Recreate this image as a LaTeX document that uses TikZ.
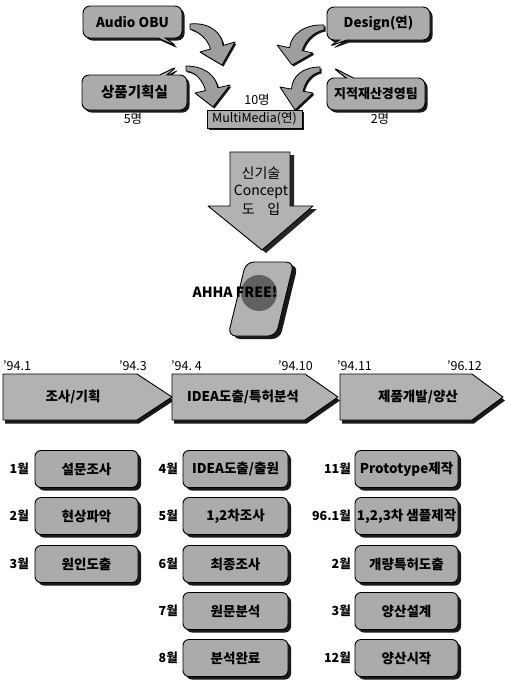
\documentclass[tikz,border=0pt]{standalone}
\usepackage{fontspec}
\setmainfont{Noto Sans CJK KR}
\usetikzlibrary{shapes.callouts,shadows}
\newcommand{\fsz}[1]{\fontsize{#1}{#1}\selectfont}
\begin{document}
\begin{tikzpicture}[x=1pt,y=-1pt,
  tone/.style={fill=black!33},
  hardshadow/.style={drop shadow={shadow xshift=#1, shadow yshift=-#1, fill=black!90, opacity=1}},
  hardshadow/.default=2.5pt,
  bubble/.style={rectangle callout, draw, line width=0.9pt, tone, rounded corners=7pt,
    inner sep=1pt, hardshadow, font=\bfseries\fsz{13.5}},
  curl/.style={draw, line width=0.8pt, fill=black!38, line join=round, hardshadow=1.5pt},
  plate/.style={rectangle, draw, line width=0.9pt, tone, rounded corners=6pt,
    minimum width=103pt, minimum height=37pt, inner sep=1pt, hardshadow=3pt,
    font=\bfseries\fsz{13.5}},
  month/.style={anchor=east, inner sep=0pt, font=\bfseries\fsz{12.5}},
  date/.style={inner sep=0pt, font=\fsz{12.5}},
  phase/.style={draw, line width=0.9pt, fill=black!30, line join=round,
    drop shadow={shadow xshift=2pt, shadow yshift=-3.5pt, fill=black!90, opacity=1}},
  phasetext/.style={inner sep=0pt, font=\bfseries\fsz{13.5}},
  count/.style={inner sep=0pt, font=\fsz{12.5}}
]
\useasboundingbox (0,0) rectangle (504,683);

% ---------- departments ----------
\node[bubble, minimum width=99pt, minimum height=32pt,
      callout absolute pointer={(178,47)}] (audio) at (132.5,22) {Audio OBU};
\node[bubble, minimum width=103pt, minimum height=33pt,
      callout absolute pointer={(328,47)}] (design) at (378.5,23.5) {Design(연)};
\node[bubble, minimum width=105pt, minimum height=35pt, font=\bfseries\fsz{14.5},
      callout absolute pointer={(178,66)}] (plan) at (134.5,92.5) {상품기획실};
\node[bubble, minimum width=98pt, minimum height=32pt, font=\bfseries\fsz{13},
      callout absolute pointer={(332,67)}] (ip) at (376,94) {지적재산경영팀};

% curved arrows into the MultiMedia team
\draw[curl] (190,24) .. controls (210,22) and (222,33) .. (223,45.5) -- (235,42)
  -- (222,65) -- (200,52) -- (210.5,49) .. controls (208,40) and (200,32) .. (190,29) -- cycle;
\draw[curl] (186,66) .. controls (205,66) and (216,76) .. (217.75,87.8) -- (230,85)
  -- (213,107) -- (195,93) -- (205.5,90.6) .. controls (203,81) and (196,72) .. (186,71) -- cycle;
\draw[curl] (324,25) .. controls (305,24) and (291,34) .. (289.6,47.8) -- (277,45)
  -- (292,65) -- (313,53) -- (302.2,50.6) .. controls (305,41) and (313,32) .. (324,30) -- cycle;
\draw[curl] (320,67) .. controls (302,67) and (292,77) .. (291.5,89.1) -- (280,87)
  -- (295,110) -- (313,93) -- (303.1,91.2) .. controls (305,82) and (311,74) .. (320,72) -- cycle;

\node[draw, line width=0.9pt, tone, minimum width=95pt, minimum height=18pt, inner sep=1pt,
      hardshadow=1.5pt, font=\fsz{12.5}] (mm) at (254.5,119) {MultiMedia(연)};
\node[count] (n10) at (257,100) {10명};
\node[count] (n5) at (133,119) {5명};
\node[count] (n2) at (380,119) {2명};

% ---------- big down arrow ----------
\draw[draw, line width=0.9pt, fill=black!30, line join=round,
      drop shadow={shadow xshift=4pt, shadow yshift=-3pt, fill=black!85, opacity=1}]
  (230,152) -- (290,152) -- (290,206) -- (313,206) -- (262,250) -- (208,206) -- (230,206) -- cycle;
\node[align=center, inner sep=0pt, font=\fsz{14}] (concept) at (261,191)
  {신기술\\[3pt]Concept\\[3pt]도\hspace{0.9em}입};

% ---------- AHHA FREE! ----------
\draw[line width=0.9pt, fill=black!30, rounded corners=8pt,
      drop shadow={shadow xshift=4pt, shadow yshift=-3pt, fill=black!90, opacity=1}]
  (246,262) -- (294,262) -- (276,336) -- (228,336) -- cycle;
\fill[black!62] (259,293) circle (18);
\node[inner sep=0pt, font=\bfseries\fsz{14}] (ahha) at (235,292) {AHHA FREE!};

% ---------- phases ----------
\draw[phase] (3,374) -- (137,374) -- (172,397) -- (137,420) -- (3,420) -- cycle;
\draw[phase] (172,374) -- (305,374) -- (338,397) -- (305,420) -- (172,420) -- cycle;
\draw[phase] (340,374) -- (472,374) -- (503,397) -- (472,420) -- (340,420) -- cycle;
\node[phasetext] (p1) at (73,397) {조사/기획};
\node[phasetext] (p2) at (243,397) {IDEA도출/특허분석};
\node[phasetext] (p3) at (418,397) {제품개발/양산};

\node[date, anchor=west] (d1) at (3,366) {'94.1};
\node[date, anchor=east] (d2) at (147,366) {'94.3};
\node[date, anchor=west] (d3) at (171,366) {'94.\ 4};
\node[date, anchor=east] (d4) at (313,366) {'94.10};
\node[date, anchor=west] (d5) at (337,366) {'94.11};
\node[date, anchor=east] (d6) at (482,366) {'96.12};

% ---------- monthly tasks ----------
\node[plate] (a1) at (86.5,469) {설문조사};
\node[plate] (a2) at (86.5,516) {현상파악};
\node[plate] (a3) at (86.5,564) {원인도출};
\node[month] (m1) at (29,469) {1월};
\node[month] (m2) at (29,516) {2월};
\node[month] (m3) at (29,564) {3월};

\node[plate, minimum width=105pt] (b1) at (235.5,469) {IDEA도출/출원};
\node[plate, minimum width=105pt] (b2) at (235.5,516) {1,2차조사};
\node[plate, minimum width=105pt] (b3) at (235.5,564) {최종조사};
\node[plate, minimum width=105pt] (b4) at (235.5,611) {원문분석};
\node[plate, minimum width=105pt] (b5) at (235.5,658) {분석완료};
\node[month] (m4) at (178,469) {4월};
\node[month] (m5) at (178,516) {5월};
\node[month] (m6) at (178,564) {6월};
\node[month] (m7) at (178,611) {7월};
\node[month] (m8) at (178,658) {8월};

\node[plate] (c1) at (406.5,469) {Prototype제작};
\node[plate] (c2) at (406.5,516) {1,2,3차 샘플제작};
\node[plate] (c3) at (406.5,564) {개량특허도출};
\node[plate] (c4) at (406.5,611) {양산설계};
\node[plate] (c5) at (406.5,658) {양산시작};
\node[month] (m9) at (351,469) {11월};
\node[month] (m10) at (351,516) {96.1월};
\node[month] (m11) at (351,564) {2월};
\node[month] (m12) at (351,611) {3월};
\node[month] (m13) at (351,658) {12월};
\end{tikzpicture}
\end{document}
